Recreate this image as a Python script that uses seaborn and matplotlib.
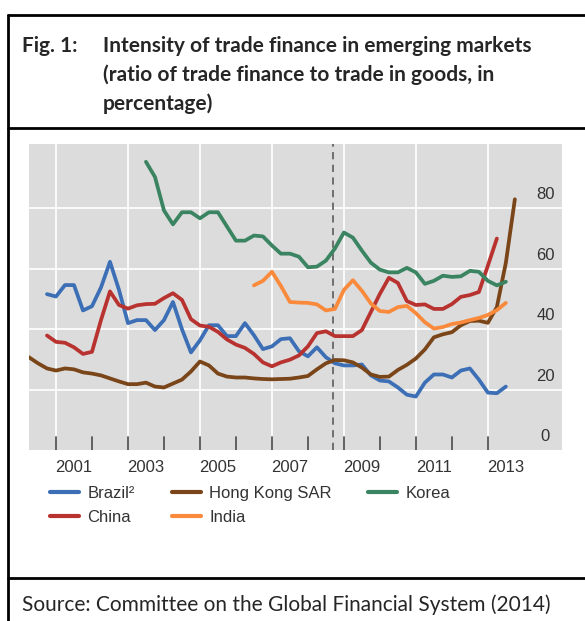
import numpy as np
import pandas as pd
import matplotlib
matplotlib.use('Agg')
import matplotlib.pyplot as plt
from matplotlib.lines import Line2D
import seaborn as sns

# quarterly series, ratio of trade finance to trade in goods (%)
brazil_start = 2000.75
brazil = [51.6, 50.8, 54.6, 54.6, 46.2, 47.6, 53.8, 62.3, 53, 42, 43, 43, 39.7, 43, 49, 40,
          32.3, 36.3, 41.3, 41.3, 37.7, 37.7, 42, 38, 33.4, 34.3, 36.7, 37, 32.7,
          31, 34, 30.7, 28.7, 28, 28, 28.3, 24.7, 23, 22.7, 20.7, 18.3, 17.7, 22.3, 25,
          25, 24, 26.3, 27, 23.3, 19, 18.8, 21]

hk_start = 2000.25
hong_kong = [30.7, 28.7, 27, 26.3, 27, 26.7, 25.7, 25.3, 24.7, 23.7, 22.7, 21.8, 21.8, 22.3, 21, 20.7,
             22, 23.3, 26, 29.3, 28, 25.3, 24.3, 24, 24, 23.7, 23.5, 23.4, 23.5, 23.6, 24,
             24.5, 26.7, 28.7, 29.8, 29.7, 29, 27.3, 25, 24.2, 24.3, 26.5, 28.2, 30.3, 33.3, 37.3,
             38.3, 39, 41.3, 42.7, 42.8, 42.1, 47.3, 62, 83]

korea_start = 2003.5
korea = [95.4, 90.4, 79.3, 74.7, 78.7, 78.7, 76.7, 78.7, 78.7, 74, 69.3, 69.3, 71, 70.7, 67.7, 65, 65, 64,
         60.5, 60.7, 62.7, 66.7, 72, 70.3, 66, 62, 59.7, 58.8, 58.8, 60.3, 58.8, 55, 56, 57.7, 57.3,
         57.5, 59.3, 59, 56, 54.5, 55.7]

china_start = 2000.75
china = [37.9, 35.8, 35.5, 34, 31.8, 32.5, 43, 52.5, 48, 46.8, 47.9, 48.3, 48.4, 50.3, 51.9, 49.7,
         43.3, 41.2, 40.8, 39.1, 36.6, 34.9, 33.8, 31.8, 29, 27.7, 29, 29.9, 31.3,
         34.3, 38.7, 39.3, 37.7, 37.7, 37.7, 39.7, 45.7, 51.7, 57, 55.3, 49.3, 48, 48.2, 46.7,
         46.7, 48.3, 50.7, 51.3, 52.3, 61, 70]

india_start = 2006.5
india = [54.5, 56, 59, 54.3, 49, 48.8, 48.7, 48.2, 46.2, 46.7, 53, 56.2, 52.7, 48.5, 46, 45.7,
         47.3, 47.7, 45.3, 42.3, 40.2, 40.7, 41.7, 42.2, 43, 43.7, 44.7, 46.3, 48.7]

names = ['Brazil²', 'China', 'Hong Kong SAR', 'India', 'Korea']
colores = ['#3c6fb5', '#b83330', '#7a4519', '#fa8a3b', '#3a8461']
year_labels = ['2001', '2003', '2005', '2007', '2009', '2011', '2013']
y_labels = [0, 20, 40, 60, 80]
crisis = 2008.7

series = {'Brazil²': (brazil_start, brazil), 'China': (china_start, china),
          'Hong Kong SAR': (hk_start, hong_kong), 'India': (india_start, india),
          'Korea': (korea_start, korea)}

rows = []
for nome in names:
    start, vals = series[nome]
    for i, v in enumerate(vals):
        rows.append((nome, start + 0.25 * i, v))
Base = pd.DataFrame(rows, columns=['Pais', 'Ano', 'Valor'])

sns.set_style('darkgrid', {'axes.facecolor': '#dcdcdc', 'grid.color': 'white'})
plt.rcParams['font.family'] = ['Liberation Sans', 'DejaVu Sans']

fig = plt.figure(figsize=(5.85, 6.21), dpi=100)
ax = fig.add_axes([29 / 585, 1 - 450 / 621, 533 / 585, 306 / 621])

sns.lineplot(data=Base, x='Ano', y='Valor', hue='Pais', hue_order=names,
             palette=dict(zip(names, colores)), linewidth=2.7, ax=ax, legend=False)

ax.set_xlim(2000.25, 2015.06)
ax.set_ylim(0, 101.3)
ax.axvline(crisis, color='#666666', linestyle=(0, (4, 3)), linewidth=1.3, zorder=1)

# grid only on odd years and every 20
ax.set_xticks([int(a) for a in year_labels])
ax.set_xticklabels([])
ax.set_yticks(y_labels[1:])
ax.set_yticklabels([])
ax.tick_params(axis='both', length=0)
ax.grid(True, color='white', linewidth=1.2)
ax.set_axisbelow(True)

# small tick marks each year, inside the panel
for yr in range(2001, 2014):
    ax.plot([yr, yr], [0, 4.2], color='#555555', linewidth=1.3, zorder=3)

for lab in year_labels:
    ax.text(int(lab) + 0.5, -3.2, lab, ha='center', va='top', fontsize=12, color='#333333')
for v in y_labels:
    ax.text(2014.6, v + 2.0, str(v), ha='center', va='bottom', fontsize=12, color='#333333')

ax.set_xlabel('')
ax.set_ylabel('')
for s in ax.spines.values():
    s.set_visible(False)

# legend: rows Brazil, HK, Korea / China, India
handles = [Line2D([], [], color=c, linewidth=3) for c in colores]
fig.legend(handles, names, loc='upper left', bbox_to_anchor=(50 / 585, 1 - 486 / 621),
           ncol=3, frameon=False, fontsize=12, handlelength=1.75, handletextpad=0.5,
           columnspacing=2.2, borderpad=0, borderaxespad=0, labelspacing=0.55,
           labelcolor='#333333')

# frame around the figure
lw = 2
fig.add_artist(Line2D([8 / 585, 8 / 585], [0, 1 - 15 / 621], color='black', linewidth=lw))
for yy in [15, 128, 578]:
    fig.add_artist(Line2D([8 / 585, 1], [1 - yy / 621, 1 - yy / 621], color='black', linewidth=lw))

title_lines = ['Intensity of trade finance in emerging markets',
               '(ratio of trade finance to trade in goods, in',
               'percentage)']
fig.text(22 / 585, 1 - 46 / 621, 'Fig. 1:', fontsize=15, fontweight='bold',
         family=['Lato', 'DejaVu Sans'], va='center', ha='left')
for k, linha in enumerate(title_lines):
    fig.text(103 / 585, 1 - (46 + 29 * k) / 621, linha, fontsize=15, fontweight='bold',
             family=['Lato', 'DejaVu Sans'], va='center', ha='left')
fig.text(22 / 585, 1 - 605 / 621, 'Source: Committee on the Global Financial System (2014)',
         fontsize=15, family=['Lato', 'DejaVu Sans'], va='center', ha='left')

fig.savefig('out.png', dpi=100)
